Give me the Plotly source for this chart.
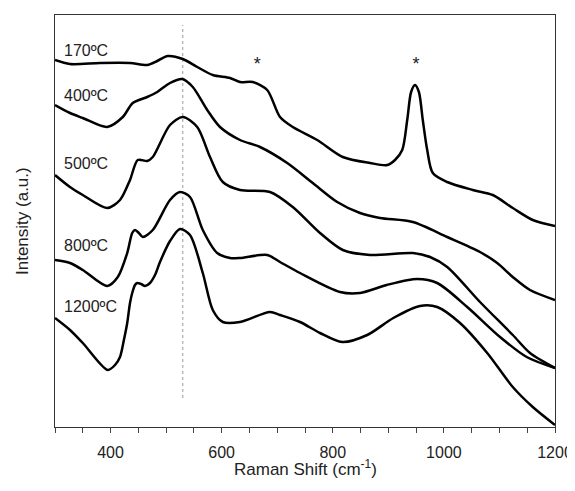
import plotly.graph_objects as go

# Raman spectra (offset intensities, a.u.)
x_170 = [300, 327, 381, 435, 466, 484, 503, 530, 556, 584, 615, 633, 656, 682, 705, 728, 772, 818, 867, 898,
         912, 925, 934, 941, 948, 955, 962, 970, 980, 1006, 1052, 1088, 1124, 1160, 1200]
y_170 = [367, 363, 364, 364, 362, 366, 371, 368, 360, 352, 349, 345, 345, 337, 310, 300, 287, 270, 264, 262,
         267, 277, 307, 335, 342, 335, 307, 277, 254, 245, 237, 232, 219, 207, 201]

x_400 = [300, 327, 350, 394, 422, 440, 466, 484, 507, 529, 548, 574, 597, 633, 669, 718, 764, 808, 849, 885,
         944, 1006, 1065, 1096, 1124, 1155, 1200]
y_400 = [322, 314, 309, 300, 310, 324, 330, 335, 344, 348, 340, 317, 300, 287, 280, 264, 244, 225, 214, 209,
         205, 190, 175, 164, 150, 137, 127]

x_500 = [300, 327, 350, 394, 417, 435, 449, 466, 476, 507, 530, 556, 579, 602, 633, 687, 728, 777, 818, 867,
         944, 975, 1006, 1065, 1124, 1155, 1200]
y_500 = [252, 240, 232, 219, 227, 247, 267, 266, 270, 302, 310, 300, 270, 245, 237, 235, 220, 194, 177, 172,
         174, 170, 160, 125, 92, 74, 59]

x_800 = [300, 327, 350, 394, 413, 430, 439, 444, 451, 458, 476, 507, 525, 543, 566, 592, 615, 633, 682, 705,
         741, 813, 849, 897, 952, 988, 1042, 1101, 1149, 1200]
y_800 = [167, 164, 157, 141, 150, 174, 194, 197, 194, 190, 197, 227, 235, 230, 197, 174, 169, 169, 172, 165,
         154, 135, 134, 142, 148, 144, 120, 90, 70, 59]

x_1200 = [300, 327, 350, 395, 408, 417, 424, 430, 435, 439, 444, 448, 455, 462, 471, 480, 489, 507, 525, 543,
          566, 584, 602, 633, 687, 705, 741, 777, 817, 862, 909, 957, 988, 1029, 1078, 1124, 1160, 1200]
y_1200 = [109, 97, 84, 57, 62, 70, 87, 104, 124, 134, 142, 144, 143, 141, 144, 152, 165, 186, 198, 192,
          154, 117, 105, 105, 115, 112, 105, 94, 85, 92, 109, 121, 120, 104, 74, 40, 20, 2]

series = [
    ("170ºC", x_170, y_170, 377),
    ("400ºC", x_400, y_400, 332),
    ("500ºC", x_500, y_500, 264),
    ("800ºC", x_800, y_800, 182),
    ("1200ºC", x_1200, y_1200, 121),
]

ref_line_x = [530, 530]
ref_line_y = [29, 402]

star_x = [664, 950]
star_y = [362, 362]

tick_vals = list(range(300, 1201, 50))
tick_text = [str(v) if v in (400, 600, 800, 1000, 1200) else "" for v in tick_vals]

FONT = "Liberation Sans, Arial, sans-serif"

fig = go.Figure()

fig.add_trace(go.Scatter(x=ref_line_x, y=ref_line_y, mode="lines",
                         line=dict(color="#9a9a9a", width=1, dash="dot"),
                         showlegend=False, hoverinfo="skip"))

for name, xs, ys, label_y in series:
    fig.add_trace(go.Scatter(x=xs, y=ys, mode="lines", name=name,
                             line=dict(color="black", width=2.5, shape="spline", smoothing=0.8),
                             showlegend=False))
    fig.add_annotation(x=312, y=label_y, text=name, showarrow=False, xanchor="left", yanchor="middle",
                       font=dict(family=FONT, size=16, color="#222"))

fig.add_trace(go.Scatter(x=star_x, y=star_y, mode="text", text=["*", "*"], textposition="middle center",
                         textfont=dict(family=FONT, size=18, color="#222"),
                         showlegend=False, hoverinfo="skip"))

# axis titles
fig.add_annotation(xref="paper", yref="paper", x=0.5, y=0, yshift=-41, text="Raman Shift (cm<sup>-1</sup>)",
                   showarrow=False, xanchor="center", yanchor="middle",
                   font=dict(family=FONT, size=17, color="#222"))
fig.add_annotation(xref="paper", yref="paper", x=0, y=0.5, xshift=-33, text="Intensity (a.u.)",
                   textangle=-90, showarrow=False, xanchor="center", yanchor="middle",
                   font=dict(family=FONT, size=17, color="#222"))

fig.update_layout(
    width=567, height=483,
    margin=dict(l=47, r=20, t=7, b=64, autoexpand=False),
    plot_bgcolor="white", paper_bgcolor="white",
    font=dict(family=FONT, size=16, color="#222"),
)
fig.update_xaxes(range=[300, 1200], tickmode="array", tickvals=tick_vals, ticktext=tick_text,
                 ticks="outside", ticklen=5, tickcolor="#444", showgrid=False, zeroline=False,
                 showline=True, linecolor="#333", linewidth=1, mirror=True,
                 ticklabelstandoff=6, automargin=False)
fig.update_yaxes(range=[0, 412], showticklabels=False, ticks="", showgrid=False, zeroline=False,
                 showline=True, linecolor="#333", linewidth=1, mirror=True, automargin=False)

fig.write_html("out.html")
